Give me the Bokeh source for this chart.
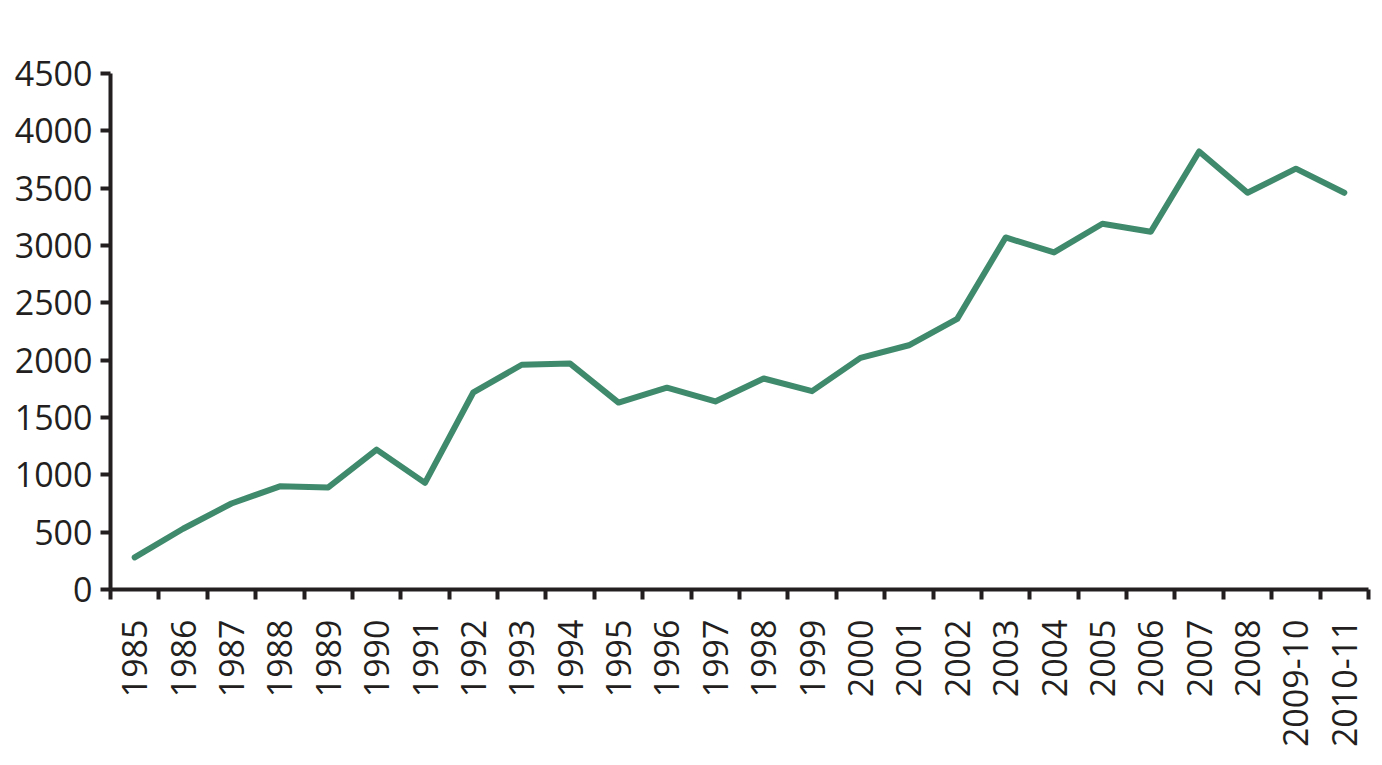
from math import pi
from bokeh.plotting import figure
from bokeh.models import Range1d, FixedTicker, ColumnDataSource
from bokeh.embed import file_html
from bokeh.resources import INLINE

categories = ["1985", "1986", "1987", "1988", "1989", "1990", "1991", "1992", "1993",
              "1994", "1995", "1996", "1997", "1998", "1999", "2000", "2001", "2002",
              "2003", "2004", "2005", "2006", "2007", "2008", "2009-10", "2010-11"]
values = [280, 530, 750, 900, 890, 1220, 930, 1720, 1960, 1970, 1630, 1760, 1640,
          1840, 1730, 2020, 2130, 2360, 3070, 2940, 3190, 3120, 3820, 3460, 3670, 3460]
y_ticks = [0, 500, 1000, 1500, 2000, 2500, 3000, 3500, 4000, 4500]

TEXT = "#231f20"
LINE = "#3f8a6d"
FONT = "Open Sans"

n = len(categories)
idx = list(range(n))
src = ColumnDataSource(dict(x=idx, y=values, cat=categories))

p = figure(width=1374, height=757, output_backend="svg", toolbar_location=None,
           x_range=Range1d(-0.5, n - 0.5), y_range=Range1d(0, 4500),
           min_border_left=110, min_border_right=6, min_border_top=73,
           min_border_bottom=168)
p.outline_line_color = None
p.xgrid.visible = False
p.ygrid.visible = False
p.background_fill_color = "white"
p.border_fill_color = "white"

p.line("x", "y", source=src, line_width=6, line_color=LINE,
       line_join="round", line_cap="round")

ya = p.yaxis[0]
ya.ticker = FixedTicker(ticks=y_ticks, minor_ticks=[])
ya.axis_line_width = 4
ya.axis_line_color = TEXT
ya.major_tick_line_width = 4
ya.major_tick_line_color = TEXT
ya.major_tick_out = 10
ya.major_tick_in = 0
ya.minor_tick_line_color = None
ya.major_label_text_font = FONT
ya.major_label_text_font_size = "34px"
ya.major_label_text_color = TEXT
ya.major_label_standoff = 8

xa = p.xaxis[0]
xa.ticker = FixedTicker(ticks=idx, minor_ticks=[i - 0.5 for i in range(n + 1)])
xa.major_label_overrides = {i: c for i, c in enumerate(categories)}
xa.axis_line_width = 4
xa.axis_line_color = TEXT
xa.major_tick_out = 0
xa.major_tick_in = 0
xa.major_tick_line_color = None
xa.minor_tick_out = 10
xa.minor_tick_in = 0
xa.minor_tick_line_width = 4
xa.minor_tick_line_color = TEXT
xa.major_label_orientation = pi / 2
xa.major_label_text_font = FONT
xa.major_label_text_font_size = "34px"
xa.major_label_text_color = TEXT
xa.major_label_standoff = 20

open("out.html", "w").write(file_html(p, INLINE))
